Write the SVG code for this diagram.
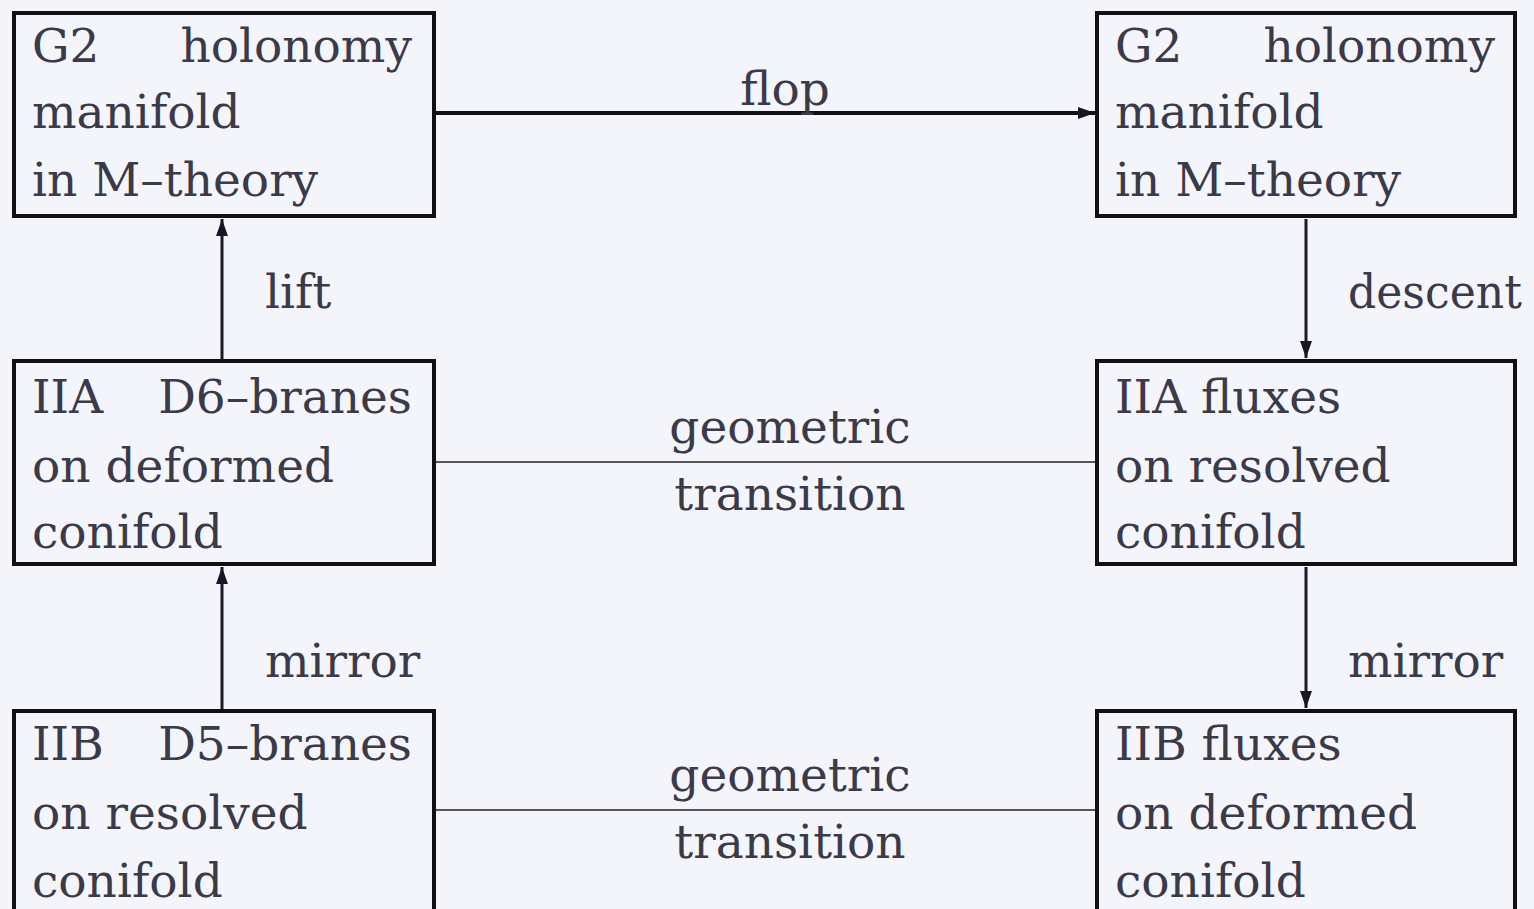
<svg xmlns="http://www.w3.org/2000/svg" width="1534" height="909" viewBox="0 0 1534 909">
<defs>
<marker id="ahs" viewBox="0 0 10 10" refX="10" refY="5" markerWidth="17" markerHeight="17" markerUnits="userSpaceOnUse" orient="auto">
<path d="M0,1.5 L10,5 L0,8.5 Z" fill="#1a1424"/>
</marker>
<style>
.box{fill:#f4f4fb;stroke:#111;stroke-width:4}
.thick{stroke:#111;stroke-width:4;fill:none}
.mid{stroke:#1f1828;stroke-width:3;fill:none}
.thin{stroke:#222;stroke-width:1.5;fill:none}
text{fill:#3a3a48}
</style>
</defs>
<rect width="1534" height="909" fill="#f4f4fb"/>
<g font-family="'DejaVu Serif', serif" font-size="47">
<g id="connectors">
<line class="thick" x1="436" y1="113" x2="1095" y2="113" marker-end="url(#ahs)"/>
<line class="mid" x1="222" y1="359" x2="222" y2="219" marker-end="url(#ahs)"/>
<line class="mid" x1="1306" y1="219" x2="1306" y2="358" marker-end="url(#ahs)"/>
<line class="thin" x1="436" y1="462" x2="1095" y2="462"/>
<line class="mid" x1="222" y1="709" x2="222" y2="567" marker-end="url(#ahs)"/>
<line class="mid" x1="1306" y1="567" x2="1306" y2="708" marker-end="url(#ahs)"/>
<line class="thin" x1="436" y1="810" x2="1095" y2="810"/>
<text x="785" y="105" text-anchor="middle">flop</text>
<text x="265" y="308">lift</text>
<text x="1348" y="308" textLength="174" lengthAdjust="spacingAndGlyphs">descent</text>
<text x="790" y="443" text-anchor="middle">geometric</text>
<text x="790" y="510" text-anchor="middle">transition</text>
<text x="265" y="677">mirror</text>
<text x="1348" y="677">mirror</text>
<text x="790" y="791" text-anchor="middle">geometric</text>
<text x="790" y="858" text-anchor="middle">transition</text>
</g>
<g id="g2-left">
<rect class="box" x="14" y="13" width="420" height="203"/>
<text x="32" y="62">G2</text>
<text x="412" y="62" text-anchor="end">holonomy</text>
<text x="32" y="128">manifold</text>
<text x="32" y="196">in M–theory</text>
</g>
<g id="g2-right">
<rect class="box" x="1097" y="13" width="418" height="203"/>
<text x="1115" y="62">G2</text>
<text x="1495" y="62" text-anchor="end">holonomy</text>
<text x="1115" y="128">manifold</text>
<text x="1115" y="196">in M–theory</text>
</g>
<g id="iia-left">
<rect class="box" x="14" y="361" width="420" height="203"/>
<text x="32" y="413">IIA</text>
<text x="412" y="413" text-anchor="end">D6–branes</text>
<text x="32" y="482">on deformed</text>
<text x="32" y="548">conifold</text>
</g>
<g id="iia-right">
<rect class="box" x="1097" y="361" width="418" height="203"/>
<text x="1115" y="413">IIA fluxes</text>
<text x="1115" y="482">on resolved</text>
<text x="1115" y="548">conifold</text>
</g>
<g id="iib-left">
<rect class="box" x="14" y="711" width="420" height="210"/>
<text x="32" y="760">IIB</text>
<text x="412" y="760" text-anchor="end">D5–branes</text>
<text x="32" y="829">on resolved</text>
<text x="32" y="897">conifold</text>
</g>
<g id="iib-right">
<rect class="box" x="1097" y="711" width="418" height="210"/>
<text x="1115" y="760">IIB fluxes</text>
<text x="1115" y="829">on deformed</text>
<text x="1115" y="897">conifold</text>
</g>
</g>
</svg>
